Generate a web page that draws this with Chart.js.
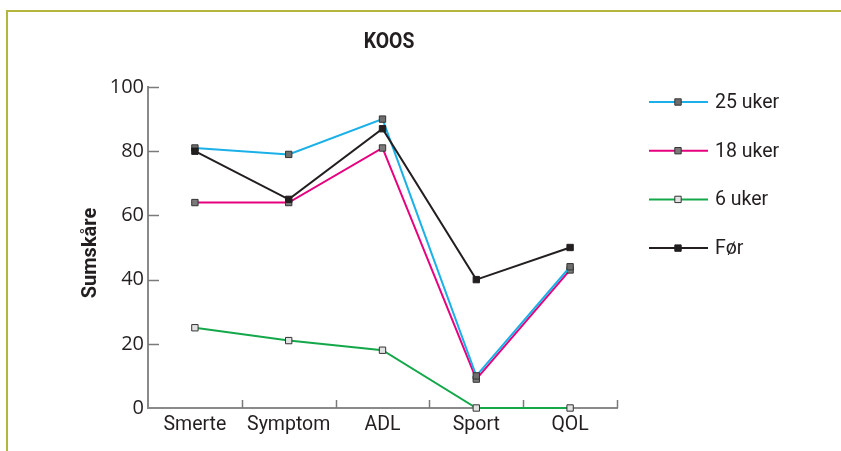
<!DOCTYPE html>
<html><head><meta charset="utf-8">
<script src="https://cdn.jsdelivr.net/npm/chart.js@4"></script>
<style>html,body{margin:0;padding:0;background:#fff}#wrap{width:841px;height:451px;position:relative}</style>
</head><body><div id="wrap"><canvas id="c" width="841" height="451"></canvas></div>
<script>
const categories = ['Smerte', 'Symptom', 'ADL', 'Sport', 'QOL'];
const seriesNames = ['25 uker', '18 uker', '6 uker', 'Før'];
const uker25 = [81, 79, 90, 10, 44];
const uker18 = [64, 64, 81, 9, 43];
const uker6 = [25, 21, 18, 0, 0];
const foer = [80, 65, 87, 40, 50];
const yTicks = [0, 20, 40, 60, 80, 100];
const chartTitle = 'KOOS';
const yTitle = 'Sumskåre';

const lineColors = ['#1ab0e8', '#e6007e', '#14a84a', '#231f20'];
const markerFill = ['#6e6e6e', '#7a7a7a', '#e2e2e2', '#231f20'];
const markerBorder = ['#333333', '#333333', '#333333', '#231f20'];
const drawOrder = [1, 2, 3, 0];
const values = [uker25, uker18, uker6, foer];

const datasets = values.map((v, i) => ({
  label: seriesNames[i],
  data: v,
  borderColor: lineColors[i],
  backgroundColor: markerFill[i],
  borderWidth: 2,
  tension: 0,
  clip: false,
  pointStyle: 'rect',
  pointRadius: 4.5,
  pointBorderWidth: 1,
  pointBackgroundColor: markerFill[i],
  pointBorderColor: markerBorder[i],
  order: drawOrder[i]
}));

const decor = {
  id: 'decor',
  beforeDraw(chart) {
    const ctx = chart.ctx;
    ctx.save();
    ctx.strokeStyle = '#b3b53e';
    ctx.lineWidth = 2;
    ctx.beginPath();
    ctx.moveTo(7, 451);
    ctx.lineTo(7, 11);
    ctx.lineTo(841, 11);
    ctx.stroke();
    ctx.restore();
  },
  beforeDatasetsDraw(chart) {
    const ctx = chart.ctx;
    const x = chart.scales.x, y = chart.scales.y;
    const area = chart.chartArea;
    ctx.save();
    ctx.strokeStyle = '#7a7a7a';
    ctx.lineWidth = 1.5;
    yTicks.forEach(v => {
      if (v === 0) return;
      const py = Math.round(y.getPixelForValue(v)) + 0.5;
      ctx.beginPath(); ctx.moveTo(area.left, py); ctx.lineTo(area.left + 11, py); ctx.stroke();
    });
    const step = x.getPixelForValue(1) - x.getPixelForValue(0);
    categories.forEach((c, i) => {
      const px = Math.round(x.getPixelForValue(i) + step / 2) + 0.5;
      ctx.beginPath(); ctx.moveTo(px, area.bottom); ctx.lineTo(px, area.bottom - 8); ctx.stroke();
    });
    ctx.restore();
  },
  afterDraw(chart) {
    const ctx = chart.ctx;
    ctx.save();
    // title
    ctx.fillStyle = '#231f20';
    ctx.save();
    ctx.translate(389, 48);
    ctx.scale(0.88, 1);
    ctx.font = 'bold 22px Roboto';
    ctx.textAlign = 'center';
    ctx.textBaseline = 'alphabetic';
    ctx.fillText(chartTitle, 0, 0);
    ctx.restore();
    // y title
    ctx.save();
    ctx.translate(90.5, 253);
    ctx.rotate(-Math.PI / 2);
    ctx.font = 'bold 20px Roboto';
    ctx.textAlign = 'center';
    ctx.textBaseline = 'middle';
    ctx.fillText(yTitle, 0, 0);
    ctx.restore();
    // legend
    ctx.textAlign = 'left';
    ctx.textBaseline = 'middle';
    ctx.font = '19.5px Roboto';
    chart.data.datasets.forEach((ds, i) => {
      const ly = 102 + i * 48.7;
      ctx.strokeStyle = ds.borderColor;
      ctx.lineWidth = 2;
      ctx.beginPath(); ctx.moveTo(649, ly); ctx.lineTo(708, ly); ctx.stroke();
      ctx.fillStyle = ds.pointBackgroundColor;
      ctx.strokeStyle = ds.pointBorderColor;
      ctx.lineWidth = 1;
      Chart.helpers.drawPoint(ctx, {pointStyle: 'rect', radius: 4.5, borderWidth: 1, rotation: 0}, 678, ly);
      ctx.fillStyle = '#231f20';
      ctx.fillText(ds.label, 715, ly + 1);
    });
    ctx.restore();
  }
};

new Chart(document.getElementById('c'), {
  type: 'line',
  data: { labels: categories, datasets },
  options: {
    responsive: false,
    animation: false,
    layout: { padding: { top: 87, right: 224, left: 0, bottom: 0 } },
    plugins: { legend: { display: false }, title: { display: false }, tooltip: { enabled: false } },
    scales: {
      x: {
        type: 'category',
        offset: true,
        grid: { display: false, drawTicks: false, offset: true },
        border: { display: true, color: '#8a8a8a', width: 2 },
        ticks: { font: { family: 'Roboto', size: 19.5 }, color: '#231f20', padding: 5, maxRotation: 0, autoSkip: false },
        afterFit(s) { s.height = 43; }
      },
      y: {
        min: 0, max: 100,
        afterBuildTicks(s) { s.ticks = yTicks.map(v => ({ value: v })); },
        grid: { display: false, drawTicks: false },
        border: { display: true, color: '#8a8a8a', width: 2 },
        ticks: { font: { family: 'Open Sans', size: 20 }, color: '#231f20', padding: 4 },
        afterFit(s) { s.width = 148; }
      }
    }
  },
  plugins: [decor]
});
</script>
</body></html>
